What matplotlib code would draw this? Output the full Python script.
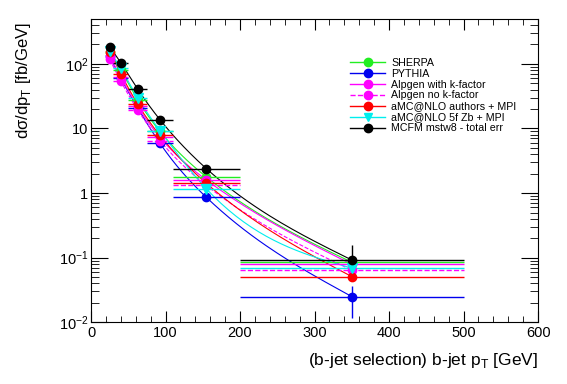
import matplotlib
matplotlib.use('Agg')
import matplotlib.pyplot as plt
from matplotlib.lines import Line2D
from matplotlib.ticker import FixedLocator, NullFormatter, FuncFormatter
import numpy as np

plt.rcParams['font.family'] = ['Liberation Sans', 'DejaVu Sans']

# bins in b-jet pT [GeV]
bin_lo = [20, 30, 50, 75, 110, 200]
bin_hi = [30, 50, 75, 110, 200, 500]
bin_c = [25, 40, 62.5, 92.5, 155, 350]

# dsigma/dpT [fb/GeV]
sherpa = [155, 80, 28, 9.0, 1.77, 0.085]
pythia = [130, 60, 21, 5.9, 0.855, 0.025]
alpgen_k = [130, 62, 22, 7.3, 1.59, 0.079]
alpgen_nok = [118, 54, 19.5, 6.5, 1.31, 0.064]
amc_authors = [155, 70, 24, 7.8, 1.41, 0.051]
amc_5f = [160, 85, 30, 9.3, 1.16, 0.069]
mcfm = [184, 104, 41, 13.7, 2.38, 0.092]
mcfm_err_lo = [15, 9, 4, 1.3, 0.3, 0.045]
mcfm_err_hi = [15, 9, 4, 1.3, 0.35, 0.066]
pythia_err_lo = [0, 0, 0, 0, 0, 0.0135]
pythia_err_hi = [0, 0, 0, 0, 0, 0.012]

series = [
    ('SHERPA', sherpa, '#22ee22', 'o', '-'),
    ('PYTHIA', pythia, '#0000ee', 'o', '-'),
    ('Alpgen with k-factor', alpgen_k, '#ff00ff', 'o', '-'),
    ('Alpgen no k-factor', alpgen_nok, '#ff00ff', 'o', '--'),
    ('aMC@NLO authors + MPI', amc_authors, '#ff0000', 'o', '-'),
    ('aMC@NLO 5f Zb + MPI', amc_5f, '#00eeee', 'v', '-'),
    ('MCFM mstw8 - total err', mcfm, 'black', 'o', '-'),
]

fig = plt.figure(figsize=(5.67, 3.84), dpi=100)
ax = fig.add_axes([0.1605, 0.1607, 0.7885, 0.7906])
ax.set_xlim(0, 600)
ax.set_ylim(0.01, 500)
ax.set_yscale('log')


def smooth(xs, ys, n=40):
    # natural cubic spline of log10(y) against x, like ROOT's "C" draw option
    x = np.array(xs, float)
    y = np.log10(ys)
    m = len(x)
    h = np.diff(x)
    A = np.zeros((m, m))
    r = np.zeros(m)
    A[0, 0] = A[-1, -1] = 1
    for i in range(1, m - 1):
        A[i, i - 1] = h[i - 1]
        A[i, i] = 2 * (h[i - 1] + h[i])
        A[i, i + 1] = h[i]
        r[i] = 6 * ((y[i + 1] - y[i]) / h[i] - (y[i] - y[i - 1]) / h[i - 1])
    M = np.linalg.solve(A, r)
    ox, oy = [], []
    for i in range(m - 1):
        t = np.linspace(x[i], x[i + 1], n)
        a = (x[i + 1] - t) / h[i]
        b = (t - x[i]) / h[i]
        s = (a * y[i] + b * y[i + 1]
             + ((a ** 3 - a) * M[i] + (b ** 3 - b) * M[i + 1]) * h[i] ** 2 / 6)
        ox.extend(t)
        oy.extend(s)
    return np.array(ox), 10 ** np.array(oy)


xc = np.array(bin_c)
xerr = [xc - np.array(bin_lo), np.array(bin_hi) - xc]
handles = []
for name, vals, col, mk, ls in series:
    sx, sy = smooth(bin_c, vals)
    ax.plot(sx, sy, color=col, lw=0.8, ls=ls, zorder=2)
    if name.startswith('MCFM'):
        yerr = [mcfm_err_lo, mcfm_err_hi]
    elif name == 'PYTHIA':
        yerr = [pythia_err_lo, pythia_err_hi]
    else:
        yerr = None
    eb = ax.errorbar(bin_c, vals, xerr=xerr, yerr=yerr, fmt=mk, color=col,
                     ms=6 if mk == 'o' else 6.5, lw=1.0, capsize=0, zorder=3)
    if ls == '--':
        eb[2][0].set_linestyle('--')
    handles.append(Line2D([], [], color=col, ls=ls, lw=1.0, marker=mk, ms=6))

leg = ax.legend(handles, [s[0] for s in series], loc='upper left',
                bbox_to_anchor=(0.57, 0.886), frameon=False, fontsize=7.7,
                handlelength=3.3, handletextpad=0.55, labelspacing=0.09,
                borderaxespad=0)

# ROOT-like ticks
ax.xaxis.set_major_locator(FixedLocator(range(0, 601, 100)))
ax.xaxis.set_minor_locator(FixedLocator(range(0, 601, 20)))
ax.tick_params(which='both', direction='in', top=True, right=True)
ax.tick_params(axis='x', which='major', length=8, labelsize=10.5, pad=3)
ax.tick_params(axis='x', which='minor', length=4)
ax.tick_params(axis='y', which='major', length=12, labelsize=10.5, pad=2)
ax.tick_params(axis='y', which='minor', length=6)
ax.yaxis.set_minor_formatter(NullFormatter())


def yfmt(v, pos):
    e = int(round(np.log10(v)))
    if e == 0:
        return '1'
    if e == 1:
        return '10'
    return r'$\mathregular{10^{%d}}$' % e


ax.yaxis.set_major_formatter(FuncFormatter(yfmt))

ax.set_xlabel(r'(b-jet selection) b-jet p$_\mathregular{T}$ [GeV]', fontsize=12.5)
ax.xaxis.set_label_coords(1.0, -0.095)
ax.xaxis.label.set_horizontalalignment('right')
ax.set_ylabel(r'd$\mathregular{\sigma}$/dp$_\mathregular{T}$ [fb/GeV]', fontsize=12)
ax.yaxis.set_label_coords(-0.13, 0.99)
ax.yaxis.label.set_horizontalalignment('right')

fig.savefig('out.png', dpi=100)
